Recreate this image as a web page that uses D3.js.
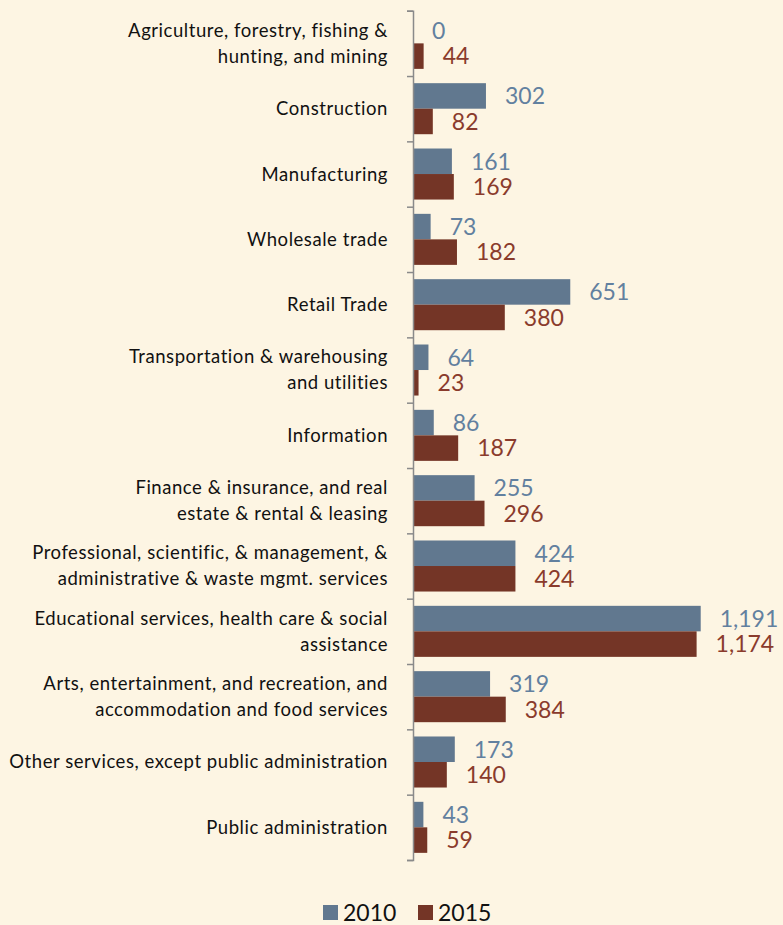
<!DOCTYPE html>
<html>
<head>
<meta charset="utf-8">
<script src="https://cdn.jsdelivr.net/npm/d3@7"></script>
<style>
  html, body { margin: 0; padding: 0; background: #fdf5e3; }
  svg { display: block; }
  text { font-family: Lato, "Open Sans", sans-serif; }
</style>
</head>
<body>
<div id="chart"></div>
<script>
// categories (line breaks as in the original)
const categories = [
  ["Agriculture, forestry, fishing &", "hunting, and mining"],
  ["Construction"],
  ["Manufacturing"],
  ["Wholesale trade"],
  ["Retail Trade"],
  ["Transportation & warehousing", "and utilities"],
  ["Information"],
  ["Finance & insurance, and real", "estate & rental  & leasing"],
  ["Professional, scientific, & management, &", "administrative & waste mgmt. services"],
  ["Educational services, health care & social", "assistance"],
  ["Arts, entertainment, and recreation, and", "accommodation and food services"],
  ["Other services, except public administration"],
  ["Public administration"]
];
const years = ["2010", "2015"];
const values2010 = [0, 302, 161, 73, 651, 64, 86, 255, 424, 1191, 319, 173, 43];
const values2015 = [44, 82, 169, 182, 380, 23, 187, 296, 424, 1174, 384, 140, 59];

const colors = { "2010": "#61788f", "2015": "#743526" };
const labelColors = { "2010": "#62809f", "2015": "#8a3b2c" };

const W = 783, H = 925;
const margin = { top: 10.7, left: 413, bottom: 860 };
const fmt = d3.format(",");

const svg = d3.select("#chart").append("svg")
  .attr("width", W).attr("height", H);

const idx = d3.range(categories.length);

const y = d3.scaleBand()
  .domain(idx)
  .range([margin.top, margin.bottom])
  .padding(0);

const ySub = d3.scaleBand()
  .domain(years)
  .range([7.15, y.bandwidth() - 7.15]);

const x = d3.scaleLinear()
  .domain([0, 1400])
  .range([margin.left, margin.left + 338.2]);

// bars
const rows = idx.map(i => ({ i, vals: { "2010": values2010[i], "2015": values2015[i] } }));

const g = svg.selectAll(".grp")
  .data(rows)
  .enter().append("g")
  .attr("class", "grp")
  .attr("transform", d => `translate(0,${y(d.i)})`);

g.selectAll("rect")
  .data(d => years.map(yr => ({ yr, v: d.vals[yr] })))
  .enter().append("rect")
  .attr("x", x(0))
  .attr("y", d => ySub(d.yr))
  .attr("width", d => x(d.v) - x(0))
  .attr("height", ySub.bandwidth())
  .attr("fill", d => colors[d.yr]);

g.selectAll(".val")
  .data(d => years.map(yr => ({ yr, v: d.vals[yr] })))
  .enter().append("text")
  .attr("class", "val")
  .attr("x", d => x(d.v) + 19)
  .attr("y", d => ySub(d.yr) + ySub.bandwidth() / 2)
  .attr("dy", "0.36em")
  .attr("font-size", 23)
  .attr("fill", d => labelColors[d.yr])
  .text(d => fmt(d.v));

// category axis: ticks on band boundaries
const yEdges = d3.scaleLinear()
  .domain([0, categories.length])
  .range([margin.top, margin.bottom]);

const axis = svg.append("g")
  .attr("transform", `translate(${margin.left},0)`)
  .call(d3.axisLeft(yEdges).ticks(categories.length).tickSize(6).tickSizeOuter(6).tickFormat(""));
axis.selectAll("path, line").attr("stroke", "#8a8a8a").attr("stroke-width", 1.5);

// category labels
const lineH = 26;
svg.selectAll(".cat")
  .data(categories)
  .enter().append("text")
  .attr("class", "cat")
  .attr("text-anchor", "end")
  .attr("font-size", 18.5)
  .attr("letter-spacing", 0.55)
  .attr("fill", "#111")
  .each(function(lines, i) {
    const cy = y(i) + y.bandwidth() / 2;
    const t = d3.select(this);
    lines.forEach((ln, k) => {
      t.append("tspan")
        .attr("x", 388)
        .attr("y", cy + (k - (lines.length - 1) / 2) * lineH)
        .attr("dy", "0.35em")
        .text(ln);
    });
  });

// legend
const legend = svg.append("g").attr("transform", "translate(323,905)");
const lx = { "2010": 0, "2015": 95 };
years.forEach(yr => {
  legend.append("rect")
    .attr("x", lx[yr]).attr("y", 0)
    .attr("width", 15).attr("height", 15)
    .attr("fill", colors[yr]);
  legend.append("text")
    .attr("x", lx[yr] + 20).attr("y", 8)
    .attr("dy", "0.36em")
    .attr("font-size", 23)
    .attr("fill", "#111")
    .text(yr);
});
</script>
</body>
</html>
